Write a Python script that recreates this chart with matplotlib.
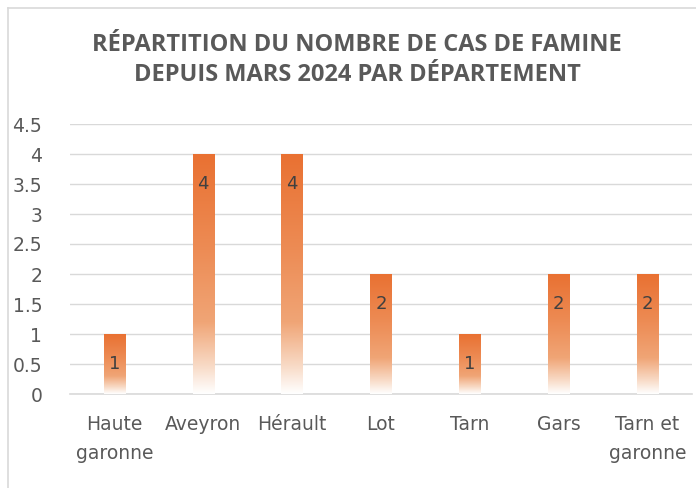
import numpy as np
import matplotlib
matplotlib.use("Agg")
import matplotlib.pyplot as plt
from matplotlib.colors import LinearSegmentedColormap
from matplotlib.lines import Line2D

categories = ["Haute\ngaronne", "Aveyron", "Hérault", "Lot", "Tarn", "Gars", "Tarn et\ngaronne"]
values = [1, 4, 4, 2, 1, 2, 2]
yticks = [0, 0.5, 1, 1.5, 2, 2.5, 3, 3.5, 4, 4.5]
title = "RÉPARTITION DU NOMBRE DE CAS DE FAMINE\nDEPUIS MARS 2024 PAR DÉPARTEMENT"

fig = plt.figure(figsize=(6.96, 4.88), dpi=100)
ax = fig.add_axes([70/696, 1-394/488, 622/696, 270/488])

cmap = LinearSegmentedColormap.from_list(
    "grad", [(0.0, "#ffffff"), (0.12, "#f8d9c4"), (0.3, "#f0a576"), (0.6, "#ed8c55"), (1.0, "#e97132")])
grad = np.linspace(0, 1, 256).reshape(-1, 1)

width = 0.24
x = np.arange(len(categories))
for xi, v in zip(x, values):
    ax.imshow(grad, cmap=cmap, origin="lower", aspect="auto",
              extent=(xi - width/2, xi + width/2, 0, v), zorder=3)
    ax.text(xi, v - 0.5, str(v), ha="center", va="center", fontsize=13,
            color="#404040", family="DejaVu Sans", zorder=4)

ax.set_xlim(-0.5, len(categories) - 0.5)
ax.set_ylim(0, 4.5)
ax.set_yticks(yticks)
ax.set_yticklabels([f"{t:g}" for t in yticks], fontsize=13.5, color="#595959",
                   family="DejaVu Sans")
ax.set_xticks(x)
ax.set_xticklabels(categories, fontsize=13.5, color="#595959", family="DejaVu Sans",
                   linespacing=1.65)
ax.tick_params(axis="both", length=0)
ax.tick_params(axis="y", pad=20)
ax.tick_params(axis="x", pad=15)
ax.grid(axis="y", color="#d9d9d9", linewidth=1.0, zorder=0)
ax.set_axisbelow(True)
for s in ["top", "right", "left"]:
    ax.spines[s].set_visible(False)
ax.spines["bottom"].set_color("#d9d9d9")
ax.spines["bottom"].set_linewidth(1.2)

fig.text(0.513, 1 - 60/488, title, ha="center", va="center", fontsize=17,
         fontweight="bold", color="#595959", family="Open Sans", linespacing=1.3)

# chart border
fig.add_artist(Line2D([8/696, 8/696], [0, 1 - 8/488], color="#d9d9d9", lw=1.2,
                      transform=fig.transFigure))
fig.add_artist(Line2D([8/696, 1], [1 - 8/488, 1 - 8/488], color="#d9d9d9", lw=1.2,
                      transform=fig.transFigure))

fig.savefig("out.png", dpi=100)
